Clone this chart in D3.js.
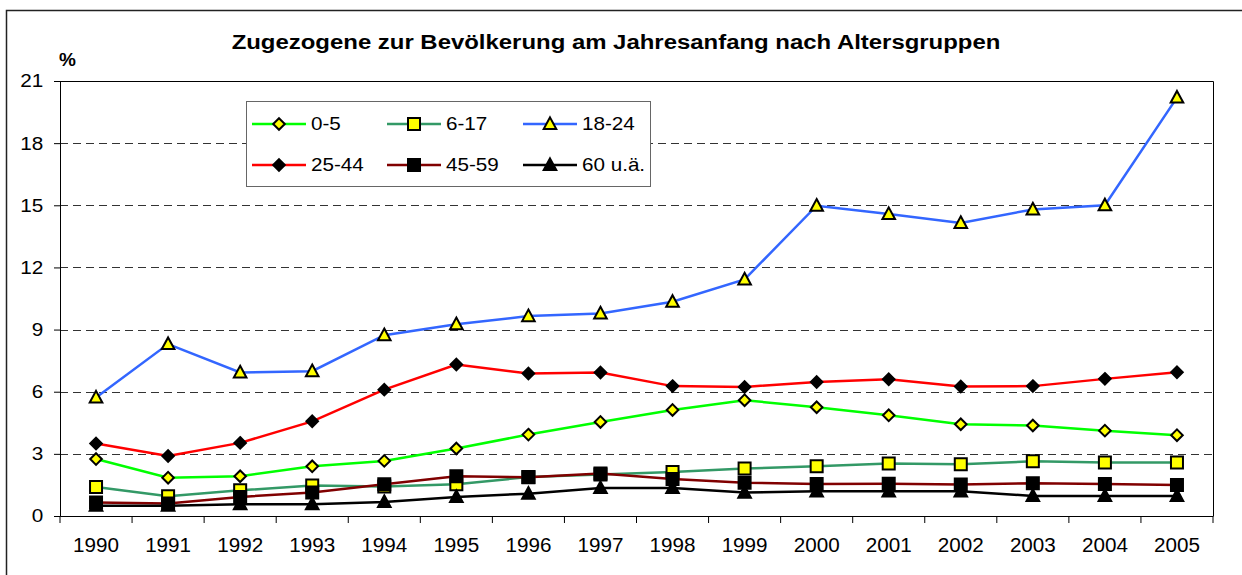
<!DOCTYPE html>
<html lang="de">
<head>
<meta charset="UTF-8">
<title>Zugezogene nach Altersgruppen</title>
<style>
  body { margin: 0; background: #fff; }
  text { font-family: "Liberation Sans", Arial, sans-serif; fill: #000; }
</style>
</head>
<body>
<script src="https://d3js.org/d3.v7.min.js"></script>
<script>
// data (percent)
const years = ["1990","1991","1992","1993","1994","1995","1996","1997","1998","1999","2000","2001","2002","2003","2004","2005"]
const age0to5   = [2.75, 1.85, 1.92, 2.4, 2.66, 3.26, 3.93, 4.54, 5.12, 5.59, 5.25, 4.86, 4.43, 4.37, 4.12, 3.9]
const age6to17  = [1.4, 0.95, 1.24, 1.47, 1.43, 1.53, 1.88, 2.0, 2.13, 2.29, 2.4, 2.53, 2.5, 2.64, 2.58, 2.58]
const age18to24 = [5.72, 8.3, 6.93, 6.99, 8.73, 9.26, 9.65, 9.78, 10.34, 11.42, 14.98, 14.58, 14.15, 14.8, 15.0, 20.2]
const age25to44 = [3.5, 2.9, 3.53, 4.57, 6.1, 7.31, 6.88, 6.93, 6.27, 6.23, 6.47, 6.6, 6.25, 6.27, 6.62, 6.94]
const age45to59 = [0.65, 0.6, 0.92, 1.13, 1.53, 1.92, 1.87, 2.05, 1.79, 1.61, 1.55, 1.56, 1.52, 1.58, 1.55, 1.5]
const age60plus = [0.5, 0.5, 0.57, 0.57, 0.68, 0.92, 1.08, 1.35, 1.35, 1.13, 1.19, 1.19, 1.19, 0.97, 0.97, 0.97]
const yTicks = [0, 3, 6, 9, 12, 15, 18, 21]

const series = [
  { name: "0-5",    values: age0to5,   line: "#00ff00", shape: "diamond",  fill: "#ffff00" },
  { name: "6-17",   values: age6to17,  line: "#339966", shape: "square",   fill: "#ffff00" },
  { name: "18-24",  values: age18to24, line: "#3366ff", shape: "triangle", fill: "#ffff00" },
  { name: "25-44",  values: age25to44, line: "#ff0000", shape: "diamond",  fill: "#000" },
  { name: "45-59",  values: age45to59, line: "#800000", shape: "square",   fill: "#000" },
  { name: "60 u.ä.", values: age60plus, line: "#000",    shape: "triangle", fill: "#000" }
]

const W = 1242, H = 575
const plot = { left: 60, right: 1213, top: 81, bottom: 516 }

const svg = d3.select("body").append("svg")
  .attr("width", W)
  .attr("height", H)

// outer chart frame
svg.append("rect")
  .attr("x", 6.5).attr("y", 10.5)
  .attr("width", W + 20).attr("height", H + 20)
  .attr("fill", "#fff")
  .attr("stroke", "#222")
  .attr("stroke-width", 1.5)

const x = d3.scaleBand().domain(years).range([plot.left, plot.right])
const y = d3.scaleLinear().domain([0, 21]).range([plot.bottom, plot.top])

// dashed gridlines
svg.append("g")
  .selectAll("line")
  .data(yTicks.filter(d => d > 0 && d < 21))
  .enter().append("line")
    .attr("x1", plot.left).attr("x2", plot.right)
    .attr("y1", d => Math.round(y(d)) + 0.5).attr("y2", d => Math.round(y(d)) + 0.5)
    .attr("stroke", "#333")
    .attr("stroke-dasharray", "8,5")

// top / right border of plot area
svg.append("path")
  .attr("d", `M${plot.left},${plot.top + 0.5}H${plot.right + 0.5}V${plot.bottom}`)
  .attr("fill", "none")
  .attr("stroke", "#000")

// y axis (labels a bit wider than the font, like the original)
const yAxis = svg.append("g")
  .attr("transform", `translate(${plot.left},0)`)
  .call(d3.axisLeft(y).tickValues(yTicks).tickSize(6).tickPadding(10))
yAxis.select(".domain").attr("stroke", "#000")
yAxis.selectAll(".tick line").attr("stroke", "#000")
yAxis.selectAll("text")
  .attr("x", -15)
  .attr("transform", "scale(1.12,1)")
  .attr("font-size", 18.5)
  .attr("font-family", "Liberation Sans, Arial, sans-serif")
  .attr("fill", "#000")

// x axis: ticks between categories
const xAxis = svg.append("g")
  .attr("transform", `translate(0,${plot.bottom})`)
  .call(d3.axisBottom(x).tickSize(0).tickPadding(22))
xAxis.select(".domain").attr("stroke", "#000")
xAxis.selectAll("text")
  .attr("transform", "scale(1.06,1)")
  .attr("font-size", 19.5)
  .attr("font-family", "Liberation Sans, Arial, sans-serif")
  .attr("fill", "#000")
xAxis.selectAll(".sep")
  .data(years.concat(["end"]))
  .enter().append("line")
    .attr("class", "sep")
    .attr("x1", (d, i) => i < years.length ? x(d) : plot.right)
    .attr("x2", (d, i) => i < years.length ? x(d) : plot.right)
    .attr("y1", 0).attr("y2", 7)
    .attr("stroke", "#000")

function markerPath(shape, r) {
  if (shape === "diamond") return `M0,${-r}L${r},0L0,${r}L${-r},0Z`
  if (shape === "square") return `M${-r},${-r}H${r}V${r}H${-r}Z`
  return `M0,${-r * 1.05}L${r},${r * 0.8}H${-r}Z`
}
const markerSize = { diamond: 5.8, square: 6, triangle: 6.3 }

const line = d3.line()
  .x((d, i) => x(years[i]) + x.bandwidth() / 2)
  .y(d => y(d))

series.forEach(s => {
  const g = svg.append("g")
  g.append("path")
    .attr("d", line(s.values))
    .attr("fill", "none")
    .attr("stroke", s.line)
    .attr("stroke-width", 2.5)
  g.selectAll("path.m")
    .data(s.values)
    .enter().append("path")
      .attr("class", "m")
      .attr("transform", (d, i) => `translate(${x(years[i]) + x.bandwidth() / 2},${y(d)})`)
      .attr("d", markerPath(s.shape, markerSize[s.shape]))
      .attr("fill", s.fill)
      .attr("stroke", "#000")
      .attr("stroke-width", 2)
      .attr("stroke-linejoin", "miter")
})

// legend
const legend = svg.append("g")
legend.append("rect")
  .attr("x", 246.5).attr("y", 101.5)
  .attr("width", 404).attr("height", 85)
  .attr("fill", "#fff")
  .attr("stroke", "#666")
  .attr("stroke-width", 1)
const colX = [252, 387, 523]
const rowY = [124, 165]
series.forEach((s, i) => {
  const lx = colX[i % 3], ly = rowY[Math.floor(i / 3)]
  const item = legend.append("g").attr("transform", `translate(${lx},${ly})`)
  item.append("line")
    .attr("x1", 0).attr("x2", 54)
    .attr("stroke", s.line).attr("stroke-width", 2.5)
  item.append("path")
    .attr("transform", "translate(27,0)")
    .attr("d", markerPath(s.shape, markerSize[s.shape]))
    .attr("fill", s.fill)
    .attr("stroke", "#000")
    .attr("stroke-width", 2)
  item.append("text")
    .attr("transform", "translate(59,6) scale(1.18,1)")
    .attr("font-size", 17.5)
    .text(s.name)
})

// title and unit
svg.append("text")
  .attr("transform", "translate(616,49) scale(1.14,1)")
  .attr("text-anchor", "middle")
  .attr("font-size", 21)
  .attr("font-weight", "bold")
  .text("Zugezogene zur Bevölkerung am Jahresanfang nach Altersgruppen")
svg.append("text")
  .attr("x", 59).attr("y", 66)
  .attr("font-size", 19)
  .attr("font-weight", "bold")
  .text("%")
</script>
</body>
</html>
